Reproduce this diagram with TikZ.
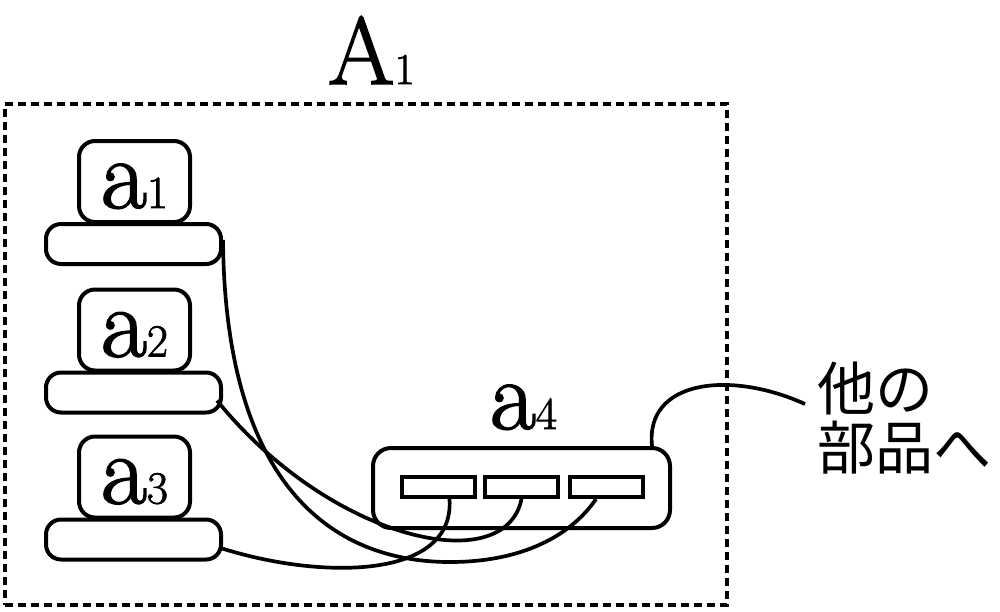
\documentclass[tikz,border=0pt]{standalone}
\usepackage{fontspec}
\newfontfamily\cjk{Noto Sans CJK JP}
\newfontfamily\lmb{Latin Modern Roman}[FakeBold=1.6]
\newcommand\bigfs{\lmb\fontsize{100}{100}\selectfont}
\newcommand\subfs{\lmb\fontsize{46}{46}\selectfont}
\begin{document}
\begin{tikzpicture}[x=1pt,y=-1pt,line width=4pt,
  frame/.style={draw,line width=3.8pt,dash pattern=on 8pt off 5pt,minimum width=722pt,minimum height=501pt,inner sep=0},
  abox/.style={draw,fill=white,rounded corners=16pt,minimum width=111pt,minimum height=81pt,inner sep=0},
  bar/.style={draw,fill=white,rounded corners=15pt,minimum width=175pt,minimum height=40pt,inner sep=0},
  hub/.style={draw,fill=white,rounded corners=18pt,minimum width=297pt,minimum height=80pt,inner sep=0},
  port/.style={draw,minimum width=73pt,minimum height=20pt,inner sep=0},
  lbl/.style={anchor=base west,inner sep=0,font=\bigfs},
  wire/.style={line width=3.7pt}]
\useasboundingbox (0,0) rectangle (1000,611);
% outer frame
\node[frame] (A) at (366,354.5) {};
\node[anchor=base west,inner sep=0,font=\lmb\fontsize{96}{96}\selectfont] (Alab) at (326,84) {A\fontsize{44}{44}\selectfont 1};
% parts a1..a3
\node[bar] (b1) at (133.5,244) {};
\node[abox] (a1) at (134.5,181.5) {};
\node[lbl] (l1) at (99,208) {a\subfs 1};
\node[bar] (b2) at (133.5,392.5) {};
\node[abox] (a2) at (134.5,330) {};
\node[lbl] (l2) at (99,356.5) {a\subfs 2};
\node[bar] (b3) at (133.5,539.5) {};
\node[abox] (a3) at (134.5,477) {};
\node[lbl] (l3) at (99,503.5) {a\subfs 3};
% a4
\node[hub] (a4) at (521.5,488) {};
\node[port] (p1) at (438.5,487) {};
\node[port] (p2) at (521.5,487) {};
\node[port] (p3) at (606,487) {};
\node[lbl] (l4) at (488,429) {a\subfs 4};
% text
\node[anchor=north west,inner sep=0,align=left,font=\cjk\fontsize{58}{59}\selectfont] (other) at (815,360) {他の\\部品へ};
\coordinate (to) at (805,404);
% wires
\draw[wire] ([yshift=4pt]b1.east) .. controls (225,470) and (320,562) .. (450,562)
  .. controls (530,562) and (575,530) .. ([xshift=-10pt]p3.south);
\draw[wire] ([shift={(-6,8)}]b2.east) .. controls (330,540) and (505,580) .. (p2.south);
\draw[wire] ([shift={(-4,8)}]b3.east) .. controls (320,580) and (455,580) .. ([xshift=11pt]p1.south);
\draw[wire] ([xshift=-20pt]a4.north east) .. controls (645,380) and (730,370) .. (to);
\end{tikzpicture}
\end{document}
